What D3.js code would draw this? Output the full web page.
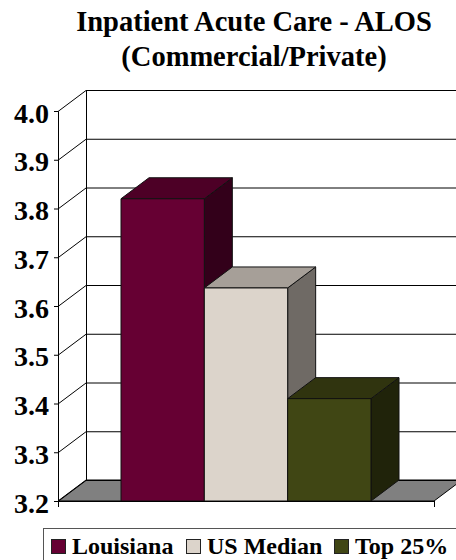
<!DOCTYPE html>
<html>
<head>
<meta charset="utf-8">
<script src="https://cdn.jsdelivr.net/npm/d3@7"></script>
<style>
body { margin: 0; background: #fff; }
text { font-family: "Liberation Serif", serif; font-weight: bold; fill: #000; }
</style>
</head>
<body>
<script>
var titleLines = ["Inpatient Acute Care - ALOS", "(Commercial/Private)"];
var series = ["Louisiana", "US Median", "Top 25%"];
var values = [3.82, 3.637, 3.41];
var colors = ["#660033", "#dcd4cb", "#404614"];
var topColors = ["#4d0026", "#a69f98", "#30340f"];
var sideColors = ["#33001a", "#6f6a65", "#20230a"];
var yTicks = [3.2, 3.3, 3.4, 3.5, 3.6, 3.7, 3.8, 3.9, 4.0];

var width = 456;
var height = 560;
// 3d offset of the back wall
var dx = 28;
var dy = -21;
var left = 58;
var right = 434;

var svg = d3.select("body")
    .append("svg")
    .attr("width", width)
    .attr("height", height)
    .style("display", "block");

var yScale = d3.scaleLinear()
    .domain([3.2, 4.0])
    .range([501, 111]);

var xScale = d3.scaleBand()
    .domain(series)
    .range([121, 371]);

var y0 = yScale(3.2);

// floor
svg.append("polygon")
    .attr("points", [[left, y0], [right, y0], [right + dx, y0 + dy], [left + dx, y0 + dy]].join(" "))
    .attr("fill", "#808080")
    .attr("stroke", "#000")
    .attr("stroke-width", 1);

// back wall gridlines
yTicks.forEach(function(t){
    svg.append("line")
        .attr("x1", left + dx)
        .attr("x2", right + dx)
        .attr("y1", yScale(t) + dy + 0.5)
        .attr("y2", yScale(t) + dy + 0.5)
        .attr("stroke", "#000");

    // side wall diagonals
    svg.append("line")
        .attr("x1", left)
        .attr("x2", left + dx)
        .attr("y1", yScale(t) + 0.5)
        .attr("y2", yScale(t) + dy + 0.5)
        .attr("stroke", "#000");
});

// walls edges
svg.append("line")
    .attr("x1", left + dx + 0.5)
    .attr("x2", left + dx + 0.5)
    .attr("y1", yScale(4.0) + dy)
    .attr("y2", y0 + dy)
    .attr("stroke", "#000");

// bars, drawn left to right so each one covers the side of the previous
series.forEach(function(name, i){
    var x0 = xScale(name);
    var x1 = x0 + xScale.bandwidth();
    var yTop = yScale(values[i]);
    var g = svg.append("g")
        .attr("stroke", "#111")
        .attr("stroke-width", 1)
        .attr("stroke-linejoin", "round");

    g.append("polygon")
        .attr("points", [[x1, yTop], [x1 + dx, yTop + dy], [x1 + dx, y0 + dy], [x1, y0]].join(" "))
        .attr("fill", sideColors[i]);
    g.append("polygon")
        .attr("points", [[x0, yTop], [x0 + dx, yTop + dy], [x1 + dx, yTop + dy], [x1, yTop]].join(" "))
        .attr("fill", topColors[i]);
    g.append("rect")
        .attr("x", x0)
        .attr("y", yTop)
        .attr("width", x1 - x0)
        .attr("height", y0 - yTop)
        .attr("fill", colors[i]);
});

// y axis
var yAxis = d3.axisLeft(yScale)
    .tickValues(yTicks)
    .tickSize(4)
    .tickPadding(5)
    .tickFormat(d3.format(".1f"));

var axisG = svg.append("g")
    .attr("transform", "translate(" + left + ",0)")
    .call(yAxis);
axisG.select(".domain").attr("stroke", "#000");
axisG.selectAll("text")
    .attr("dy", "0.4em")
    .style("font-size", "28px")
    .attr("fill", "#000");

// x axis line and end ticks
svg.append("line")
    .attr("x1", left)
    .attr("x2", right)
    .attr("y1", y0 + 0.5)
    .attr("y2", y0 + 0.5)
    .attr("stroke", "#000");
[left, right].forEach(function(x){
    svg.append("line")
        .attr("x1", x + 0.5)
        .attr("x2", x + 0.5)
        .attr("y1", y0)
        .attr("y2", y0 + 6)
        .attr("stroke", "#000");
});

// title
svg.selectAll(".title")
    .data(titleLines)
    .enter()
    .append("text")
    .attr("class", "title")
    .attr("x", 254)
    .attr("y", function(d, i){ return 31 + i * 35; })
    .attr("text-anchor", "middle")
    .style("font-size", "28.5px")
    .text(function(d){ return d; });

// legend
var legendX = [51, 186, 334];
var legend = svg.append("g");
legend.append("rect")
    .attr("x", 43.5)
    .attr("y", 528.5)
    .attr("width", 430)
    .attr("height", 50)
    .attr("fill", "#fff")
    .attr("stroke", "#555");
series.forEach(function(name, i){
    legend.append("rect")
        .attr("x", legendX[i] + 0.5)
        .attr("y", 539.5)
        .attr("width", 14)
        .attr("height", 14)
        .attr("fill", colors[i])
        .attr("stroke", "#222");
    legend.append("text")
        .attr("x", legendX[i] + 21)
        .attr("y", 554)
        .style("font-size", "24px")
        .text(name);
});
</script>
</body>
</html>
